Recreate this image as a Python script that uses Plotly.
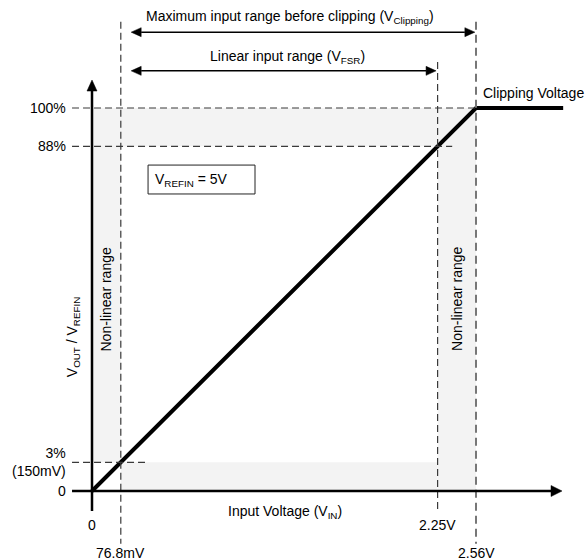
import plotly.graph_objects as go

# ---- schematic data (diagram units: 2.56 V -> 100, 100 % -> 100) ----
x_tick_labels = ["0", "76.8mV", "2.25V", "2.56V"]
x_tick_pos = [0, 7.5, 90, 100]
x_tick_row = [0, 1, 0, 1]          # 0 = upper row, 1 = lower row
y_tick_labels = ["0", "3%<br>(150mV)", "88%", "100%"]
y_tick_pos = [0, 7.5, 90, 100]
transfer_x = [0, 100, 122.7]
transfer_y = [0, 100, 100]

FONT = "Liberation Sans, Arial, sans-serif"
FS = 14
SHADE = "#f3f3f3"
DASH_C = "#3a3a3a"
SX, SY = 3.84, 3.83   # pixels per diagram unit

x0, xl, xf, xc = x_tick_pos
y0, yl, yf, yc = y_tick_pos

fig = go.Figure()

shapes = []
# shaded non-linear regions
for (a, b, c, d) in [(x0, xl, yl, yc), (xl, xf, y0, yl), (xf, xc, y0, yc), (x0, xf, yf, yc)]:
    shapes.append(dict(type="rect", xref="x", yref="y", x0=a, x1=b, y0=c, y1=d,
                       fillcolor=SHADE, line=dict(width=0), layer="below"))

def dline(xa, ya, xb, yb, color=DASH_C, width=1.2, dash="7px,4px"):
    shapes.append(dict(type="line", xref="x", yref="y", x0=xa, y0=ya, x1=xb, y1=yb,
                       line=dict(color=color, width=width, dash=dash), layer="above"))

# horizontal guides
dline(-5.2, yc, xc, yc)
dline(-5.2, yf, 93.8, yf)
dline(-5.2, yl, 13.8, yl)
# vertical guides
dline(xl, 122.5, xl, -13.8)
dline(xf, 112.0, xf, -5.2)
dline(xc, 122.5, xc, -13.8, color="#777777", width=2, dash="8px,5px")

# V_REFIN box
shapes.append(dict(type="rect", xref="x", yref="y", x0=14.6, x1=42.45, y0=77.55, y1=85.1,
                   line=dict(color="#222222", width=1), fillcolor="white", layer="above"))


def arrow_line(xs, ys, xt, yt, width, L, W, both=False):
    """Solid line from (xs,ys) to tip (xt,yt) with filled triangular head(s)."""
    dxp, dyp = (xt - xs) * SX, (yt - ys) * SY
    n = (dxp ** 2 + dyp ** 2) ** 0.5
    ux, uy = dxp / n, dyp / n          # unit direction in pixel space
    px_, py_ = -uy, ux                  # perpendicular

    def head(tx, ty, sgn):
        bx, by = tx - sgn * ux * L / SX, ty - sgn * uy * L / SY
        c1 = (bx + px_ * W / 2 / SX, by + py_ * W / 2 / SY)
        c2 = (bx - px_ * W / 2 / SX, by - py_ * W / 2 / SY)
        shapes.append(dict(type="path", xref="x", yref="y",
                           path=f"M{tx},{ty} L{c1[0]},{c1[1]} L{c2[0]},{c2[1]} Z",
                           fillcolor="black", line=dict(color="black", width=0.5),
                           layer="above"))
        return bx, by

    ex, ey = head(xt, yt, 1)
    sx, sy = (head(xs, ys, -1) if both else (xs, ys))
    shapes.append(dict(type="line", xref="x", yref="y", x0=sx, y0=sy, x1=ex, y1=ey,
                       line=dict(color="black", width=width), layer="above"))


# axes with arrowheads
arrow_line(0, -5.2, 0, 107.3, 2.5, 11, 10)
arrow_line(-5.2, 0, 122.4, 0, 2.5, 11, 11)
# range arrows
arrow_line(10.2, 119.8, xc - 0.3, 119.8, 1.5, 10, 9, both=True)
arrow_line(10.2, 109.7, xf - 0.4, 109.7, 1.5, 10, 9, both=True)

# transfer curve
fig.add_trace(go.Scatter(x=transfer_x, y=transfer_y, mode="lines",
                         line=dict(color="black", width=4), hoverinfo="skip",
                         showlegend=False))

ann = []


def txt(x, y, s, xa="center", ya="middle", angle=0, size=FS):
    ann.append(dict(x=x, y=y, xref="x", yref="y", text=s, showarrow=False,
                    xanchor=xa, yanchor=ya, textangle=angle,
                    align="right" if xa == "right" else "left",
                    font=dict(family=FONT, size=size, color="black")))


txt(51.5, 123.8, "Maximum input range before clipping (V<sub>Clipping</sub>)")
txt(51.0, 113.4, "Linear input range (V<sub>FSR</sub>)")
txt(101.4, 103.9, "Clipping Voltage", xa="left")
txt(15.8, 81.3, "V<sub>REFIN</sub> = 5V", xa="left")
txt(50.3, -5.6, "Input Voltage (V<sub>IN</sub>)")
txt(-4.9, 40.2, "V<sub>OUT</sub> / V<sub>REFIN</sub>", angle=-90)
txt((x0 + xl) / 2, 50.1, "Non-linear range", angle=-90)
txt((xf + xc) / 2, 50.1, "Non-linear range", angle=-90)

for lab, p, row in zip(x_tick_labels, x_tick_pos, x_tick_row):
    txt(p, -8.9 if row == 0 else -16.2, lab)
for lab, p in zip(y_tick_labels, y_tick_pos):
    txt(-6.2, p, lab, xa="right")

fig.update_layout(
    width=587, height=560,
    margin=dict(l=0, r=0, t=0, b=0),
    paper_bgcolor="white", plot_bgcolor="white",
    xaxis=dict(range=[-92 / SX, (587 - 92) / SX], visible=False, fixedrange=True),
    yaxis=dict(range=[(491 - 560) / SY, 491 / SY], visible=False, fixedrange=True),
    shapes=shapes, annotations=ann, showlegend=False,
    font=dict(family=FONT, size=FS),
)

fig.write_html("out.html", config={"displayModeBar": False},
               post_script="document.body.style.margin='0px';document.body.style.overflow='hidden';")
